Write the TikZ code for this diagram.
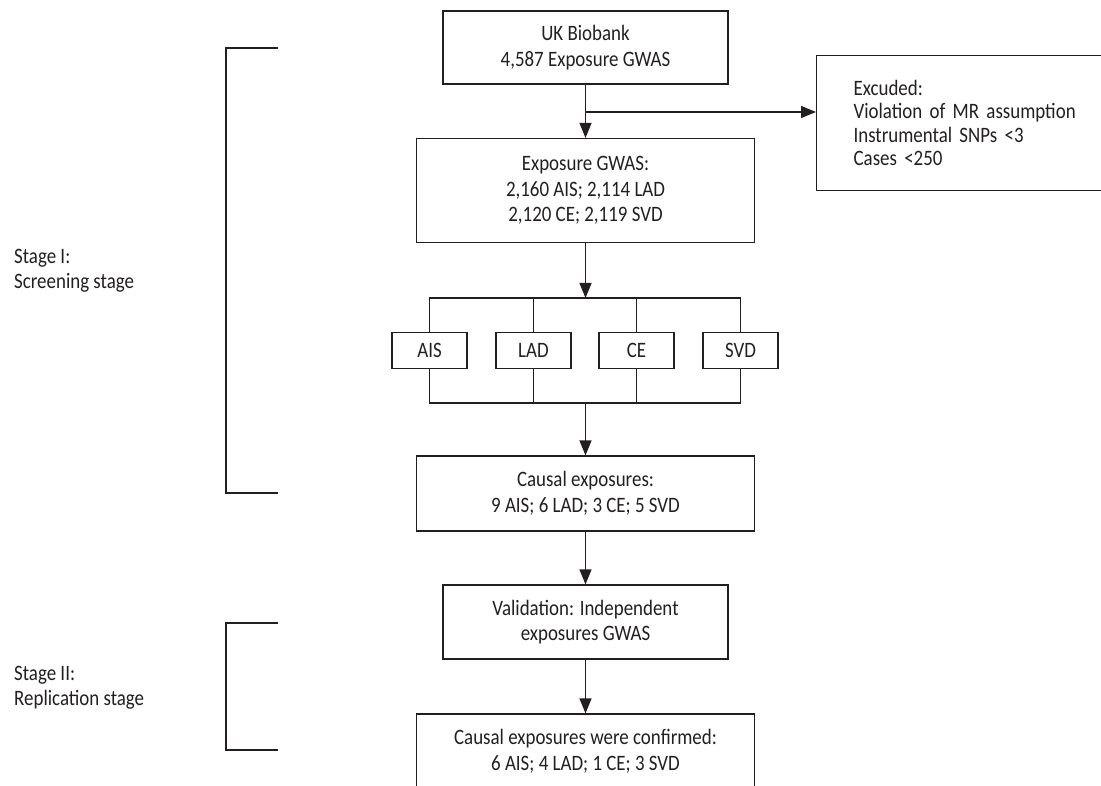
\documentclass[tikz,border=0pt]{standalone}
\usepackage{fontspec}
\setmainfont{Carlito}[FakeStretch=0.86]
\usetikzlibrary{arrows.meta}
\definecolor{ink}{HTML}{231F20}
\begin{document}
\begin{tikzpicture}[x=1pt,y=-1pt,
  box/.style={draw=ink, line width=1.2pt, text=ink, align=center, inner sep=0pt, font=\fontsize{22}{25.5}\selectfont},
  sbox/.style={box, minimum width=75pt, minimum height=36pt},
  arr/.style={draw=ink, line width=1.2pt, -{Triangle[length=15pt,width=12pt]}},
  ln/.style={draw=ink, line width=1.2pt},
  lab/.style={text=ink, align=left, inner sep=0pt, anchor=west, font=\fontsize{22}{25.5}\selectfont}]
\useasboundingbox (0,0) rectangle (1101,786);
\clip (0,0) rectangle (1101,786);
% main boxes
\node[box, minimum width=285pt, minimum height=73pt] (ukb) at (585.5,47.5) {UK Biobank\\4,587 Exposure GWAS};
\node[box, anchor=north west, align=left, text width=250pt, inner xsep=37pt, minimum height=135pt, font=\fontsize{22}{23.5}\selectfont] (exc) at (816,55) {Excuded:\\Violation of MR assumption\\Instrumental SNPs <3\\Cases <250};
\node[box, minimum width=338pt, minimum height=104pt] (expo) at (585.5,190.5) {Exposure GWAS:\\2,160 AIS; 2,114 LAD\\2,120 CE; 2,119 SVD};
\node[sbox] (ais) at (429.5,350.5) {AIS};
\node[sbox] (lad) at (533.5,350.5) {LAD};
\node[sbox] (ce) at (636.5,350.5) {CE};
\node[sbox] (svd) at (740.5,350.5) {SVD};
\node[box, minimum width=338pt, minimum height=75pt] (causal) at (585.5,493.5) {Causal exposures:\\9 AIS; 6 LAD; 3 CE; 5 SVD};
\node[box, minimum width=285pt, minimum height=74pt] (valid) at (585.5,622) {Validation: Independent\\exposures GWAS};
\node[box, minimum width=338pt, minimum height=75pt] (conf) at (585.5,751.5) {Causal exposures were confirmed:\\6 AIS; 4 LAD; 1 CE; 3 SVD};
% connectors
\coordinate (br) at (585.5,112);
\draw[arr] (ukb) -- (expo);
\draw[arr] (br) -- (exc.west |- br);
\coordinate (bt) at (585.5,298);
\coordinate (bb) at (585.5,403);
\draw[arr] (expo) -- (bt);
\draw[ln] (ais.north) -- (ais.north |- bt) -- (svd.north |- bt) -- (svd.north);
\draw[ln] (lad.north) -- (lad.north |- bt);
\draw[ln] (ce.north) -- (ce.north |- bt);
\draw[ln] (ais.south) -- (ais.south |- bb) -- (svd.south |- bb) -- (svd.south);
\draw[ln] (lad.south) -- (lad.south |- bb);
\draw[ln] (ce.south) -- (ce.south |- bb);
\draw[arr] (bb) -- (causal);
\draw[arr] (causal) -- (valid);
\draw[arr] (valid) -- (conf);
% brackets
\coordinate (b1t) at (278,48);
\coordinate (b1b) at (278,493);
\coordinate (b2t) at (278,623);
\coordinate (b2b) at (278,750);
\draw[ln] (b1t) -- ++(-52,0) |- (b1b);
\draw[ln] (b2t) -- ++(-52,0) |- (b2b);
\node[lab] (s1) at (14,271) {Stage I:\\Screening stage};
\node[lab] (s2) at (14,687.5) {Stage II:\\Replication stage};
\end{tikzpicture}
\end{document}
